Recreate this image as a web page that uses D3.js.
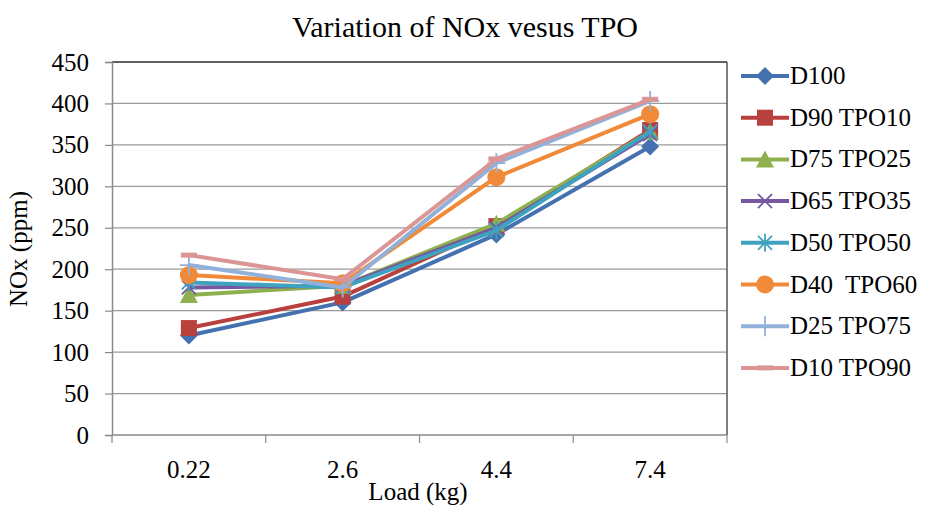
<!DOCTYPE html>
<html>
<head>
<meta charset="utf-8">
<script src="https://cdn.jsdelivr.net/npm/d3@7"></script>
<style>
  body { margin: 0; background: #fff; }
  text { font-family: "Liberation Serif", "Times New Roman", serif; }
</style>
</head>
<body>
<div id="chart"></div>
<script>
// data
const loads = ["0.22", "2.6", "4.4", "7.4"];
const seriesNames = ["D100", "D90 TPO10", "D75 TPO25", "D65 TPO35", "D50 TPO50", "D40  TPO60", "D25 TPO75", "D10 TPO90"];
const d100 = [120, 160, 242, 348];
const d90 = [129, 167, 252, 368];
const d75 = [169, 180, 255, 366];
const d65 = [178, 180, 250, 363];
const d50 = [184, 178, 247, 366];
const d40 = [193, 183, 311, 387];
const d25 = [205, 178, 328, 403];
const d10 = [217, 188, 333, 405];
const yTicks = [0, 50, 100, 150, 200, 250, 300, 350, 400, 450];

const colors = ["#4472B0", "#B8403D", "#8FB04E", "#7558A0", "#3FA3C0", "#F08A38", "#92B1DA", "#DB9595"];
const markers = ["diamond", "square", "triangle", "x", "star", "circle", "plus", "dash"];

function init() {
    const w = 935, h = 505;
    const left = 112, right = 727, top = 62, bottom = 435;

    const svg = d3.select("#chart").append("svg")
        .attr("width", w).attr("height", h);

    const x = d3.scaleBand().domain(loads).range([left, right]);
    const y = d3.scaleLinear().domain([0, 450]).range([bottom, top]);

    // gridlines
    svg.append("g").selectAll("line").data(yTicks.slice(1)).enter().append("line")
        .attr("x1", left).attr("x2", right)
        .attr("y1", d => y(d)).attr("y2", d => y(d))
        .attr("stroke", "#9a9a9a").attr("stroke-width", 1.2);

    // plot border top/right
    svg.append("line").attr("x1", left).attr("x2", right).attr("y1", top).attr("y2", top)
        .attr("stroke", "#3c3c3c").attr("stroke-width", 1.5);
    svg.append("line").attr("x1", right).attr("x2", right).attr("y1", top).attr("y2", bottom)
        .attr("stroke", "#555").attr("stroke-width", 1.5);

    // y axis
    const yAxis = svg.append("g").attr("transform", `translate(${left},0)`)
        .call(d3.axisLeft(y).tickValues(yTicks).tickSize(7).tickPadding(16));
    yAxis.select(".domain").attr("stroke", "#8a8a8a").attr("stroke-width", 1.5);
    yAxis.selectAll("line").attr("stroke", "#8a8a8a").attr("stroke-width", 1.2);
    yAxis.selectAll("text").attr("font-size", "25px").attr("fill", "#000")
        .style("font-family", "'Liberation Serif', serif");

    // x axis (ticks between categories)
    const xg = svg.append("g");
    xg.append("line").attr("x1", left).attr("x2", right).attr("y1", bottom).attr("y2", bottom)
        .attr("stroke", "#8a8a8a").attr("stroke-width", 1.5);
    const bounds = loads.map(d => x(d)).concat([x(loads[loads.length - 1]) + x.bandwidth()]);
    xg.selectAll("line.tk").data(bounds).enter().append("line").attr("class", "tk")
        .attr("x1", d => d).attr("x2", d => d).attr("y1", bottom).attr("y2", bottom + 8)
        .attr("stroke", "#8a8a8a").attr("stroke-width", 1.2);
    xg.selectAll("text").data(loads).enter().append("text")
        .attr("x", d => x(d) + x.bandwidth() / 2).attr("y", 478)
        .attr("text-anchor", "middle").attr("font-size", "25px").text(d => d);

    // titles
    svg.append("text").attr("x", 465).attr("y", 37).attr("text-anchor", "middle")
        .attr("font-size", "30px").text("Variation of NOx vesus TPO");
    svg.append("text").attr("x", 418).attr("y", 500).attr("text-anchor", "middle")
        .attr("font-size", "25px").text("Load (kg)");
    svg.append("text").attr("transform", "translate(27,249) rotate(-90)").attr("text-anchor", "middle")
        .attr("font-size", "25px").text("NOx (ppm)");

    const allSeries = [d100, d90, d75, d65, d50, d40, d25, d10];
    const line = d3.line().x((d, i) => x(loads[i]) + x.bandwidth() / 2).y(d => y(d));

    function drawMarker(g, type, color, cx, cy) {
        if (type === "diamond") {
            g.append("path").attr("d", `M${cx},${cy - 9}L${cx + 9},${cy}L${cx},${cy + 9}L${cx - 9},${cy}Z`).attr("fill", color);
        } else if (type === "square") {
            g.append("rect").attr("x", cx - 8).attr("y", cy - 8).attr("width", 16).attr("height", 16).attr("fill", color);
        } else if (type === "triangle") {
            g.append("path").attr("d", `M${cx},${cy - 9}L${cx + 9},${cy + 8}L${cx - 9},${cy + 8}Z`).attr("fill", color);
        } else if (type === "x") {
            g.append("path").attr("d", `M${cx - 7},${cy - 7}L${cx + 7},${cy + 7}M${cx - 7},${cy + 7}L${cx + 7},${cy - 7}`)
                .attr("stroke", color).attr("stroke-width", 1.8);
        } else if (type === "star") {
            g.append("path").attr("d", `M${cx - 7},${cy - 7}L${cx + 7},${cy + 7}M${cx - 7},${cy + 7}L${cx + 7},${cy - 7}M${cx},${cy - 9}L${cx},${cy + 9}`)
                .attr("stroke", color).attr("stroke-width", 1.8);
        } else if (type === "circle") {
            g.append("circle").attr("cx", cx).attr("cy", cy).attr("r", 9).attr("fill", color);
        } else if (type === "plus") {
            g.append("path").attr("d", `M${cx - 9},${cy}L${cx + 9},${cy}M${cx},${cy - 10}L${cx},${cy + 10}`)
                .attr("stroke", color).attr("stroke-width", 1.8);
        } else if (type === "dash") {
            g.append("path").attr("d", `M${cx - 8},${cy}L${cx + 8},${cy}`)
                .attr("stroke", color).attr("stroke-width", 5);
        }
    }

    allSeries.forEach((vals, s) => {
        const g = svg.append("g");
        g.append("path").datum(vals).attr("d", line)
            .attr("fill", "none").attr("stroke", colors[s]).attr("stroke-width", 4)
            .attr("stroke-linejoin", "round");
        vals.forEach((v, i) => drawMarker(g, markers[s], colors[s], x(loads[i]) + x.bandwidth() / 2, y(v)));
    });

    // legend
    const lg = svg.append("g");
    seriesNames.forEach((name, s) => {
        const ly = 76 + s * 41.7;
        lg.append("line").attr("x1", 741).attr("x2", 789).attr("y1", ly).attr("y2", ly)
            .attr("stroke", colors[s]).attr("stroke-width", 4);
        drawMarker(lg, markers[s], colors[s], 765, ly);
        lg.append("text").attr("x", 790).attr("y", ly + 8).attr("font-size", "25px")
            .style("white-space", "pre").attr("xml:space", "preserve").text(name);
    });
}

window.onload = init;
</script>
</body>
</html>
